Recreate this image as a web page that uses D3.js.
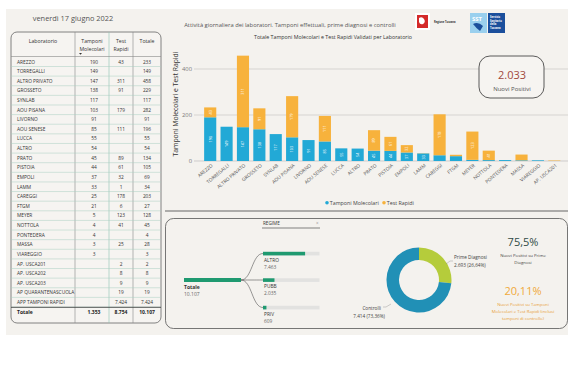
<!DOCTYPE html>
<html><head><meta charset="utf-8">
<script src="https://cdn.jsdelivr.net/npm/d3@7"></script>
<style>html,body{margin:0;padding:0;background:#fff;}svg{display:block;font-family:"Open Sans",sans-serif;}</style>
</head><body><svg id="c" width="580" height="380"></svg>
<script>
// ---------- DATA ----------
const dateLabel = "venerdì 17 giugno 2022";
const pageTitle = "Attività giornaliera dei laboratori. Tamponi effettuali, prime diagnosi e controlli";
const chartTitle = "Totale Tamponi Molecolari e Test Rapidi Validati per Laboratorio";
const labs = ["AREZZO","TORREGALLI","ALTRO PRIVATO","GROSSETO","SYNLAB","AOU PISANA","LIVORNO","AOU SENESE","LUCCA","ALTRO","PRATO","PISTOIA","EMPOLI","LAMM","CAREGGI","FTGM","MEYER","NOTTOLA","PONTEDERA","MASSA","VIAREGGIO","AP. USCA201","AP. USCA202","AP. USCA203","AP QUARANTENASCUOLA","APP TAMPONI RAPIDI"];
const molecolari = [190,149,147,138,117,103,91,85,55,54,45,44,37,33,25,21,5,4,4,3,3,null,null,null,null,null];
const rapidi = [43,null,311,91,null,179,null,111,null,null,89,61,32,1,178,6,123,41,null,25,null,2,8,9,19,7424];
const totali = [233,149,458,229,117,282,91,196,55,54,134,105,69,34,203,27,128,45,4,28,3,2,8,9,19,7424];
const totaleRow = ["Totale", 1353, 8754, 10107];
const chartCount = 22; // laboratories shown in the bar chart
const yTicks = [0,200,400];
const seriesNames = ["Tamponi Molecolari","Test Rapidi"];
const nuoviPositivi = 2033;
const regimeNames = ["ALTRO","PUBB","PRIV"];
const regimeValues = [7463,2035,609];
const regimeTotal = 10107;
const donutNames = ["Prime Diagnosi","Controlli"];
const donutValues = [2693,7414];
const donutPct = ["26,64%","73,36%"];
const kpi1 = "75,5%", kpi1Label = ["Nuovi Positivi su Prime","Diagnosi"];
const kpi2 = "20,11%", kpi2Label = ["Nuovi Positivi su Tamponi","Molecolari e Test Rapidi (inclusi","tamponi di controllo)"];

// ---------- SETUP ----------
const it = d3.formatLocale({decimal:",",thousands:".",grouping:[3],currency:["€",""]});
const fmt = it.format(",d");
const svg = d3.select("#c");
const BLUE="#22a9d6", ORANGE="#f7b23c";

svg.append("rect").attr("x",6).attr("y",9).attr("width",562).attr("height",326).attr("fill","#f4f2ee");

// header
svg.append("text").attr("x",73).attr("y",21).attr("text-anchor","middle").attr("font-size",7.4).attr("fill","#555").text(dateLabel);
svg.append("text").attr("x",290).attr("y",27).attr("text-anchor","middle").attr("font-size",5.8).attr("fill","#555").text(pageTitle);
svg.append("text").attr("x",333).attr("y",39).attr("text-anchor","middle").attr("font-size",5.3).attr("fill","#333").text(chartTitle);

// logos
const lg = svg.append("g");
lg.append("rect").attr("x",415).attr("y",13).attr("width",15).attr("height",17).attr("fill","#fff");
lg.append("path").attr("d","M417,15 L428,15 L428,28 L417,28 Z").attr("fill","#d42a2a");
lg.append("path").attr("d","M419,18 q3,-2 5,1 q2,3 -1,5 q-3,1 -4,-2z").attr("fill","#fff");
lg.append("text").attr("x",434).attr("y",23).attr("font-size",2.6).attr("font-weight","bold").attr("fill","#333").text("Regione Toscana");
lg.append("rect").attr("x",470).attr("y",13).attr("width",17).attr("height",20).attr("fill","#9ad0ee");
lg.append("text").attr("x",472).attr("y",21).attr("font-size",6).attr("font-weight","bold").attr("fill","#fff").text("SST");
lg.append("path").attr("d","M473,24 q5,-3 10,2 l-3,5 q-4,-3 -7,-7z").attr("fill","#1b4f9c");
lg.append("rect").attr("x",488).attr("y",13).attr("width",17).attr("height",20).attr("fill","#1b4f9c");
["Servizio","Sanitario","della","Toscana"].forEach((t,i)=>lg.append("text").attr("x",490).attr("y",18+i*3.6).attr("font-size",2.6).attr("font-weight","bold").attr("fill","#fff").text(t));

// ---------- TABLE ----------
const tb = svg.append("g");
const tx0=11, tx1=75, tx2=109, tx3=133, tx4=161, ty0=32, ty1=323;
tb.append("rect").attr("x",tx0).attr("y",ty0).attr("width",tx4-tx0).attr("height",ty1-ty0).attr("rx",6).attr("fill","#f6f4f1").attr("stroke","#666").attr("stroke-width",0.8);
const rowY = d3.scaleLinear().domain([0,1]).range([61.7,61.7+9.62]);
[tx1,tx2,tx3].forEach((x,i)=>tb.append("line").attr("x1",x).attr("x2",x).attr("y1",ty0).attr("y2",ty1).attr("stroke",i==1?"#8fc2b2":"#888").attr("stroke-width",0.6));
tb.append("line").attr("x1",tx0).attr("x2",tx4).attr("y1",56.5).attr("y2",56.5).attr("stroke","#888").attr("stroke-width",0.6);
const hdr=[[["Laboratorio"],(tx0+tx1)/2],[["Tamponi","Molecolari"],(tx1+tx2)/2],[["Test","Rapidi"],(tx2+tx3)/2],[["Totale"],(tx3+tx4)/2]];
hdr.forEach(([lines,x])=>lines.forEach((l,j)=>tb.append("text").attr("x",x).attr("y",43+j*7.5).attr("text-anchor","middle").attr("font-size",5.2).attr("fill","#333").text(l)));
tb.append("path").attr("d","M79,53 l3,0 l-1.5,1.8z").attr("fill","#333");
const cx=[(tx1+tx2)/2+2,(tx2+tx3)/2,(tx3+tx4)/2];
labs.forEach((lab,i)=>{
  const y=rowY(i);
  tb.append("line").attr("x1",tx0).attr("x2",tx4).attr("y1",y+4.8).attr("y2",y+4.8).attr("stroke","#a9cfc1").attr("stroke-width",0.5);
  tb.append("text").attr("x",17).attr("y",y+1.8).attr("font-size",4.8).attr("fill","#333").text(lab);
  [molecolari[i],rapidi[i],totali[i]].forEach((v,k)=>{ if(v!=null) tb.append("text").attr("x",cx[k]).attr("y",y+1.8).attr("text-anchor","middle").attr("font-size",4.8).attr("fill","#333").text(fmt(v)); });
});
const yt=rowY(labs.length)+0.5;
tb.append("line").attr("x1",tx0).attr("x2",tx4).attr("y1",yt-5).attr("y2",yt-5).attr("stroke","#333").attr("stroke-width",0.8);
tb.append("text").attr("x",17).attr("y",yt+2).attr("font-size",5).attr("font-weight","bold").attr("fill","#222").text(totaleRow[0]);
totaleRow.slice(1).forEach((v,k)=>tb.append("text").attr("x",cx[k]).attr("y",yt+2).attr("text-anchor","middle").attr("font-size",5).attr("font-weight","bold").attr("fill","#222").text(fmt(v)));

// ---------- BAR CHART ----------
const cats = labs.slice(0,chartCount);
const x = d3.scaleBand().domain(cats).range([202.5,562]).paddingInner(0.26).paddingOuter(0.1);
const y = d3.scaleLinear().domain([0,460]).range([161,55.2]);
const bc = svg.append("g");
yTicks.forEach(t=>{
  bc.append("line").attr("x1",194).attr("x2",568).attr("y1",y(t)).attr("y2",y(t)).attr("stroke",t==0?"#bbb":"#c9c9c4").attr("stroke-width",0.7);
  bc.append("text").attr("x",192).attr("y",y(t)+2).attr("text-anchor","end").attr("font-size",5.8).attr("fill","#777").text(t);
});
bc.append("text").attr("transform",`translate(178,104) rotate(-90)`).attr("text-anchor","middle").attr("font-size",6.8).attr("fill","#333").text("Tamponi Molecolari e Test Rapidi");
cats.forEach((c,i)=>{
  const m=molecolari[i]||0, r=rapidi[i]||0;
  const segs=[[0,m,BLUE],[m,m+r,ORANGE]];
  segs.forEach(([a,b,col])=>{
    if(b<=a) return;
    bc.append("rect").attr("x",x(c)).attr("width",x.bandwidth()).attr("y",y(b)).attr("height",y(a)-y(b)).attr("fill",col);
    const h=y(a)-y(b);
    if(h>=7){
      const mx=x(c)+x.bandwidth()/2, my=(y(a)+y(b))/2;
      bc.append("text").attr("transform",`translate(${mx+1.3},${my}) rotate(-90)`).attr("text-anchor","middle").attr("font-size",3.8).attr("fill","#fff").text(b-a);
    }
  });
  bc.append("text").attr("transform",`translate(${x(c)+x.bandwidth()/2+3},${166}) rotate(-40)`).attr("text-anchor","end").attr("font-size",4.8).attr("fill","#555").text(c);
});
// legend
[[seriesNames[0],BLUE,327],[seriesNames[1],ORANGE,384]].forEach(([n,col,lx])=>{
  bc.append("circle").attr("cx",lx).attr("cy",202.7).attr("r",1.8).attr("fill",col);
  bc.append("text").attr("x",lx+2.8).attr("y",204.6).attr("font-size",5.3).attr("fill","#444").text(n);
});
// KPI box
bc.append("rect").attr("x",479).attr("y",56).attr("width",65).attr("height",42).attr("rx",11).attr("fill","#f6f4f1").attr("stroke","#333").attr("stroke-width",0.8);
bc.append("text").attr("x",512).attr("y",78.5).attr("text-anchor","middle").attr("font-size",11).attr("fill","#a2483c").text(fmt(nuoviPositivi));
bc.append("text").attr("x",512).attr("y",90.5).attr("text-anchor","middle").attr("font-size",6).attr("fill","#555").text("Nuovi Positivi");
svg.append("line").attr("x1",165).attr("x2",568).attr("y1",211).attr("y2",211).attr("stroke","#666").attr("stroke-width",1.2);

// ---------- BOTTOM PANEL ----------
const bp = svg.append("g");
bp.append("rect").attr("x",165.5).attr("y",218.5).attr("width",402).attr("height",110).attr("rx",8).attr("fill","none").attr("stroke","#555").attr("stroke-width",0.8);
bp.append("text").attr("x",263).attr("y",225).attr("font-size",4.6).attr("fill","#333").text("REGIME");
bp.append("line").attr("x1",262).attr("x2",320).attr("y1",228).attr("y2",228).attr("stroke","#333").attr("stroke-width",0.6);
bp.append("text").attr("x",316).attr("y",225).attr("font-size",4.5).attr("fill","#999").text("×");
const w = d3.scaleLinear().domain([0,regimeTotal]).range([0,57]);
bp.append("rect").attr("x",184).attr("y",278).attr("width",w(regimeTotal)).attr("height",4).attr("fill","#1f9a70");
bp.append("text").attr("x",184).attr("y",288.5).attr("font-size",5).attr("font-weight","bold").attr("fill","#333").text("Totale");
bp.append("text").attr("x",184).attr("y",295.5).attr("font-size",5).attr("fill","#666").text(fmt(regimeTotal));
const childY=[251.8,278.3,305.8];
regimeNames.forEach((n,i)=>{
  const cy=childY[i];
  bp.append("path").attr("d",`M241,280 C252,280 252,${cy+1.7} 263,${cy+1.7}`).attr("fill","none").attr("stroke","#555").attr("stroke-width",0.6);
  bp.append("rect").attr("x",263).attr("y",cy).attr("width",56.5).attr("height",3.6).attr("fill","#e2e2e0");
  bp.append("rect").attr("x",263).attr("y",cy).attr("width",w(regimeValues[i])).attr("height",3.6).attr("fill","#1f9a70");
  bp.append("text").attr("x",264).attr("y",cy+10).attr("font-size",4.8).attr("fill","#333").text(n);
  bp.append("text").attr("x",264).attr("y",cy+17).attr("font-size",4.8).attr("fill","#666").text(fmt(regimeValues[i]));
});
// donut
const pie = d3.pie().sort(null)(donutValues);
const arc = d3.arc().innerRadius(20).outerRadius(32.5);
const dg = bp.append("g").attr("transform","translate(419,280)");
const dcol=["#b5cc3b","#2190b6"];
dg.selectAll("path").data(pie).join("path").attr("d",arc).attr("fill",(d,i)=>dcol[i]);
// donut labels
bp.append("path").attr("d","M446,264 L450,261 L453,261").attr("fill","none").attr("stroke","#888").attr("stroke-width",0.4);
bp.append("text").attr("x",454).attr("y",259).attr("font-size",4.7).attr("fill","#444").text(donutNames[0]);
bp.append("text").attr("x",454).attr("y",266.5).attr("font-size",4.7).attr("fill","#444").text(`${fmt(donutValues[0])} (${donutPct[0]})`);
bp.append("path").attr("d","M391,304 L386,307 L383,307").attr("fill","none").attr("stroke","#888").attr("stroke-width",0.4);
bp.append("text").attr("x",381).attr("y",310).attr("text-anchor","end").attr("font-size",4.7).attr("fill","#444").text(donutNames[1]);
bp.append("text").attr("x",385).attr("y",317.5).attr("text-anchor","end").attr("font-size",4.7).attr("fill","#444").text(`${fmt(donutValues[1])} (${donutPct[1]})`);
// KPIs
bp.append("text").attr("x",523).attr("y",246).attr("text-anchor","middle").attr("font-size",11).attr("fill","#2f4a45").text(kpi1);
kpi1Label.forEach((t,i)=>bp.append("text").attr("x",523).attr("y",256.5+i*7).attr("text-anchor","middle").attr("font-size",4.3).attr("fill","#444").text(t));
bp.append("text").attr("x",523).attr("y",295).attr("text-anchor","middle").attr("font-size",11).attr("fill","#f0a93a").text(kpi2);
kpi2Label.forEach((t,i)=>bp.append("text").attr("x",523).attr("y",305.5+i*7).attr("text-anchor","middle").attr("font-size",4.3).attr("fill","#e8a03a").text(t));
</script></body></html>
